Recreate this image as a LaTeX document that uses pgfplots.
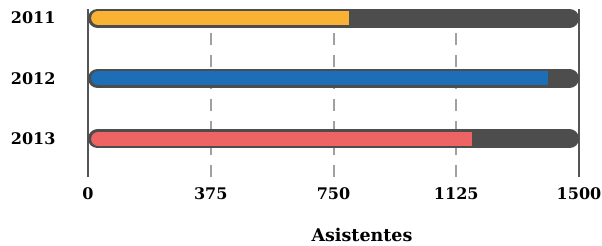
\documentclass[border=0pt]{standalone}
\usepackage{pgfplots}
\pgfplotsset{compat=1.18}
\usepackage{fontspec}
\setmainfont{DejaVu Serif}
\definecolor{bgbar}{HTML}{4D4D4D}
\definecolor{axgray}{HTML}{555555}
\definecolor{gridgray}{HTML}{A0A0A0}
\definecolor{c2011}{HTML}{FAB234}
\definecolor{c2012}{HTML}{1C6FB6}
\definecolor{c2013}{HTML}{EE6464}
\begin{document}
\begin{tikzpicture}
\begin{axis}[
  scale only axis, width=491pt, height=168pt,
  xmin=0, xmax=1500, ymin=-0.63, ymax=2.15,
  axis line style={draw=none},
  clip=false,
  xtick={0,375,750,1125,1500},
  xticklabels={0,375,750,1125,1500},
  ytick={0,1,2},
  yticklabels={2013,2012,2011},
  major tick length=0pt,
  xmajorgrids=true,
  major grid style={gridgray, line width=2pt, dash pattern=on 12pt off 10pt},
  extra x ticks={0,1500},
  extra x tick labels={},
  extra x tick style={grid=major, major grid style={solid, axgray, line width=2pt}},
  tick label style={font=\fontsize{16}{19}\selectfont\bfseries},
  x tick label style={anchor=center, inner sep=0pt, yshift=-17pt},
  y tick label style={anchor=east, xshift=-29pt},
  xlabel={Asistentes},
  xlabel style={at={(rel axis cs:0.558,0)}, anchor=center, yshift=-58pt, font=\fontsize{17.5}{21}\selectfont\bfseries},
]
% background bars
\addplot[bgbar, line width=19pt, line cap=round] coordinates {(29,2) (1471,2)};
\addplot[bgbar, line width=19pt, line cap=round] coordinates {(29,1) (1471,1)};
\addplot[bgbar, line width=19pt, line cap=round] coordinates {(29,0) (1471,0)};
% value bars
\addplot[c2011, line width=14pt, line cap=round] coordinates {(31,2) (32,2)};
\addplot[c2011, line width=14pt, line cap=butt] coordinates {(31,2) (797,2)};
\addplot[c2012, line width=14pt, line cap=round] coordinates {(31,1) (32,1)};
\addplot[c2012, line width=14pt, line cap=butt] coordinates {(31,1) (1404,1)};
\addplot[c2013, line width=14pt, line cap=round] coordinates {(31,0) (32,0)};
\addplot[c2013, line width=14pt, line cap=butt] coordinates {(31,0) (1173,0)};
\coordinate (TL) at (rel axis cs:0,1);
\coordinate (BL) at (rel axis cs:0,0);
\end{axis}
\path (TL) ++(-88pt,9pt);
\path (BL) ++(0pt,-67pt);
\path (BL) ++(514pt,0pt);
\end{tikzpicture}
\end{document}
